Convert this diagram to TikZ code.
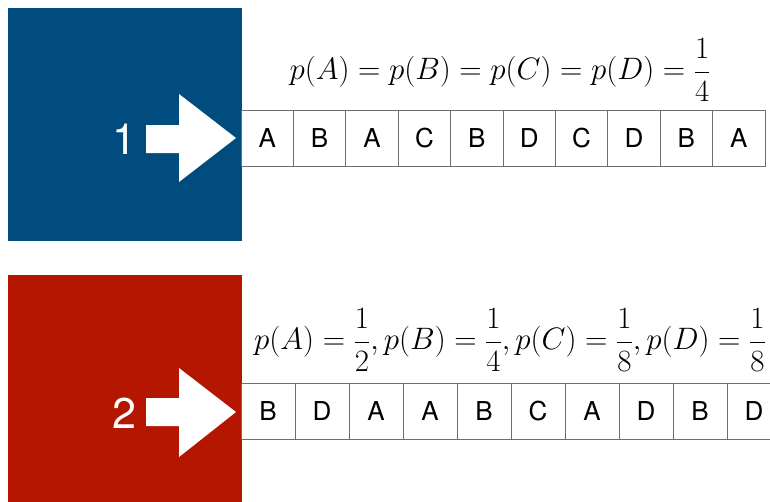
\RequirePackage{fix-cm}
\documentclass[tikz,border=0pt]{standalone}
\usepackage{amsmath}
\usepackage{fontspec}
\setsansfont{TeX Gyre Heros}
\usepackage{tikz}
\definecolor{blockblue}{RGB}{0,76,127}
\definecolor{blockred}{RGB}{180,22,0}
\definecolor{cellline}{RGB}{110,110,110}

\tikzset{
  cell/.style={draw=cellline,line width=1pt,minimum height=56pt,inner sep=0pt,
    font=\sffamily\fontsize{26}{30}\selectfont},
  numlabel/.style={text=white,font=\sffamily\fontsize{43}{48}\selectfont},
  formula/.style={font=\fontsize{31}{36}\selectfont}
}

\begin{document}
\begin{tikzpicture}[x=1pt,y=-1pt]
  \useasboundingbox (0,0) rectangle (770,501);
  \clip (0,0) rectangle (770,501);
  \fill[white] (0,0) rectangle (770,501);
  % coloured blocks
  \fill[blockblue] (8,8) rectangle (242,241);
  \fill[blockred] (8,275) rectangle (242,510);
  % block arrows
  \fill[white] (146,125)--(179,125)--(179,94)--(236,138)--(179,182)--(179,153)--(146,153)--cycle;
  \fill[white] (146,398)--(179,398)--(179,368)--(236,412)--(179,457)--(179,426)--(146,426)--cycle;
  \node[numlabel] (n1) at (124,139) {1};
  \node[numlabel] (n2) at (124,413) {2};
  % sequences
  \foreach \s [count=\i] in {A,B,A,C,B,D,C,D,B,A}
    \node[cell,minimum width=52.4pt] (a\i) at (241+52.4*\i-26.2,138) {\s};
  \foreach \s [count=\i] in {B,D,A,A,B,C,A,D,B,D}
    \node[cell,minimum width=54pt] (b\i) at (241+54*\i-27,411) {\s};
  % probabilities
  \node[formula] (p1) at (500,70) {$p(A)=p(B)=p(C)=p(D)=\dfrac{1}{4}$};
  \node[formula] (p2) at (510,340) {$p(A)=\dfrac{1}{2},p(B)=\dfrac{1}{4},p(C)=\dfrac{1}{8},p(D)=\dfrac{1}{8}$};
\end{tikzpicture}
\end{document}
